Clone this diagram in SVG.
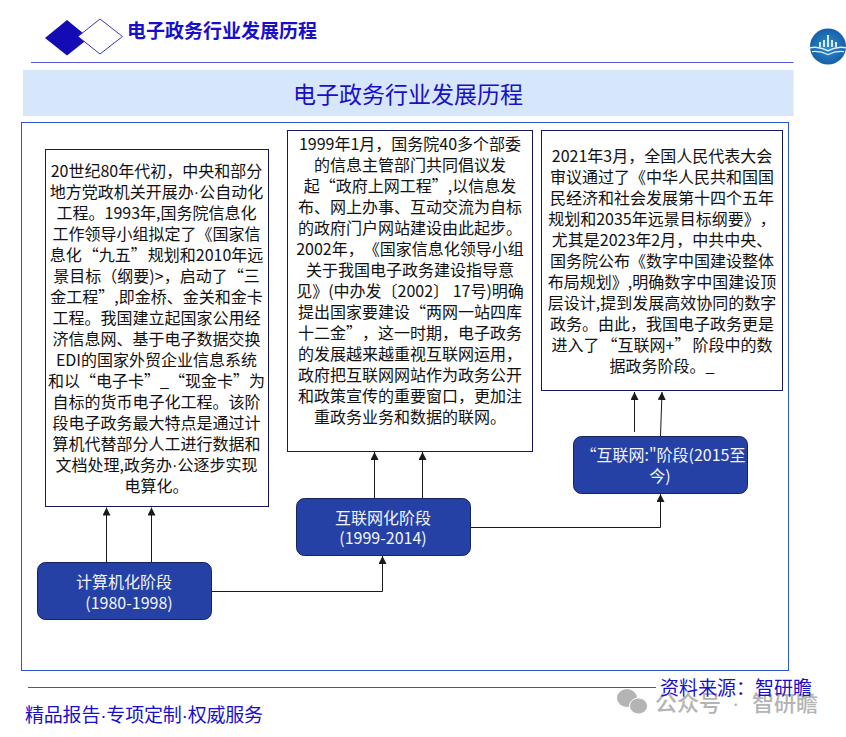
<svg xmlns="http://www.w3.org/2000/svg" width="846" height="737" viewBox="0 0 846 737" xml:lang="zh-CN" lang="zh-CN">
<style>
text{font-family:"Noto Sans CJK SC","Noto Sans",sans-serif;text-spacing-trim:space-all}
.d{font-family:"Liberation Sans",sans-serif}
.b{font-size:16px;fill:#111;text-anchor:middle}
.n{font-size:16px;fill:#f2f4fb;text-anchor:middle}
.box{fill:#fff;stroke:#14185c;stroke-width:1}
.node{fill:#2541a5;stroke:#16235e;stroke-width:1}
.c{fill:none;stroke:#1a1a1a;stroke-width:1}
.blue{fill:#1a0fc8}
</style>
<defs>
<marker id="a" markerUnits="userSpaceOnUse" markerWidth="8" markerHeight="8" refX="7" refY="3.500" orient="auto" viewBox="0 0 7 7"><path d="M7 3.500L0 0V7Z" fill="#1a1a1a"/></marker>
<radialGradient id="g"><stop offset="0" stop-color="#2f8fd0"/><stop offset="1" stop-color="#1660a8"/></radialGradient>
</defs>
<g id="header">
<path d="M67 20L89 38L67 55.500L45 38Z" fill="#140bb5"/>
<path d="M100 19L122.500 36.500L100 54L78 36.500Z" fill="#fff" stroke="#3b35c0" stroke-width="1"/>
<text x="127" y="38" font-size="19" font-weight="700" class="blue">电子政务行业发展历程</text>
<path d="M31 62.500H793.500" stroke="#5555d5" stroke-width="1"/>
</g>
<g id="logo">
<circle cx="828" cy="46.500" r="18" fill="url(#g)"/>
<path d="M819 42h2v5h-2zM823 40h2v7h-2zM827 35h2v12h-2zM831 40h2v7h-2zM835 42h2v5h-2z" fill="#d8ecf8"/>
<path d="M810 47q9-2 18 3q9-5 18-3v1.500q-9-2-18 3q-9-5-18-3zM812 51q8-1 16 3q8-4 16-3v1.200q-8-1-16 3q-8-4-16-3z" fill="#e4f2fa"/>
</g>
<g id="title">
<rect x="23" y="70" width="770.500" height="46" fill="#d6e6fb"/>
<text x="408" y="102.500" font-size="23" text-anchor="middle" class="blue">电子政务行业发展历程</text>
</g>
<rect id="frame" x="21.500" y="122.500" width="767" height="548" fill="none" stroke="#2d55cf" stroke-width="1"/>
<g id="connectors">
<path class="c" marker-end="url(#a)" d="M106.500 562V507.500"/>
<path class="c" marker-end="url(#a)" d="M151.500 562V507.500"/>
<path class="c" marker-end="url(#a)" d="M374.500 498V452"/>
<path class="c" marker-end="url(#a)" d="M422.500 498V452"/>
<path class="c" marker-end="url(#a)" d="M634.500 432V392"/>
<path class="c" marker-end="url(#a)" stroke="#555" d="M660.500 436L662 392"/>
<path class="c" marker-end="url(#a)" d="M212 591.500H382.500V556"/>
<path class="c" marker-end="url(#a)" d="M471 527.500H660.500V494"/>
</g>
<g id="text1">
<rect class="box" x="45.500" y="149.500" width="223" height="357"/>
<text class="b" x="156.500" y="177">20世纪80年代初，中央和部分</text>
<text class="b" x="156.500" y="198">地方党政机关开展办<tspan class="d">·</tspan>公自动化</text>
<text class="b" x="156.500" y="219">工程。1993年,国务院信息化</text>
<text class="b" x="156.500" y="240">工作领导小组拟定了《国家信</text>
<text class="b" x="156.500" y="261">息化<tspan dx="1">“</tspan>九五”<tspan dx="1">规</tspan>划和2010年远</text>
<text class="b" x="156.500" y="282">景目标（纲要)&gt;，启动了“三</text>
<text class="b" x="156.500" y="303">金工程”,即金桥、金关和金卡</text>
<text class="b" x="156.500" y="324">工程。我国建立起国家公用经</text>
<text class="b" x="156.500" y="345">济信息网、基于电子数据交换</text>
<text class="b" x="156.500" y="366">EDI的国家外贸企业信息系统</text>
<text class="b" x="156.500" y="387">和以“电子卡”_“现金卡”为</text>
<text class="b" x="156.500" y="408">自标的货币电子化工程。该阶</text>
<text class="b" x="156.500" y="429">段电子政务最大特点是通过计</text>
<text class="b" x="156.500" y="450">算机代替部分人工进行数据和</text>
<text class="b" x="156.500" y="471">文档处理,政务办<tspan class="d">·</tspan>公逐步实现</text>
<text class="b" x="156.500" y="492">电算化。</text>
</g>
<g id="text2">
<rect class="box" x="287.500" y="130.500" width="245" height="321"/>
<text class="b" x="410" y="150">1999年1月，国务院40多个部委</text>
<text class="b" x="410" y="171">的信息主管部门共同倡议发</text>
<text class="b" x="410" y="192">起“政府上网工程”,以信息发</text>
<text class="b" x="410" y="213">布、网上办事、互动交流为自标</text>
<text class="b" x="410" y="234">的政府门户网站建设由此起步。</text>
<text class="b" x="410" y="255">2002年，《国家信息化领导小组</text>
<text class="b" x="410" y="276">关于我国电子政务建设指导意</text>
<text class="b" x="410" y="297">见》(中办发〔2002〕 17号)明确</text>
<text class="b" x="410" y="318">提出国家要建设“两网一站四库</text>
<text class="b" x="410" y="339">十二金”，这一时期，电子政务</text>
<text class="b" x="410" y="360">的发展越来越重视互联网运用，</text>
<text class="b" x="410" y="381">政府把互联网网站作为政务公开</text>
<text class="b" x="410" y="402">和政策宣传的重要窗口，更加注</text>
<text class="b" x="410" y="423">重政务业务和数据的联网。</text>
</g>
<g id="text3">
<rect class="box" x="541.500" y="130.500" width="241" height="260"/>
<text class="b" x="662" y="162">2021年3月，全国人民代表大会</text>
<text class="b" x="662" y="183">审议通过了《中华人民共和国国</text>
<text class="b" x="662" y="204">民经济和社会发展第十四个五年</text>
<text class="b" x="662" y="225">规划和2035年远景目标纲要》，</text>
<text class="b" x="662" y="246">尤其是2023年2月，中共中央、</text>
<text class="b" x="662" y="267">国务院公布《数字中国建设整体</text>
<text class="b" x="662" y="288">布局规划》,明确数字中国建设顶</text>
<text class="b" x="662" y="309">层设计,提到发展高效协同的数字</text>
<text class="b" x="662" y="330">政务。由此，我国电子政务更是</text>
<text class="b" x="662" y="351">进入了<tspan dx="2">“</tspan>互联网+”<tspan dx="2">阶</tspan>段中的数</text>
<text class="b" x="662" y="372">据政务阶段。_</text>
</g>
<g id="node1">
<rect class="node" x="37.500" y="562.500" width="174" height="57" rx="8"/>
<text class="n" x="124" y="588">计算机化阶段</text>
<text class="n" x="129" y="609">(1980-1998)</text>
</g>
<g id="node2">
<rect class="node" x="296.500" y="498.500" width="174" height="57" rx="8"/>
<text class="n" x="383" y="524">互联网化阶段</text>
<text class="n" x="383" y="544">(1999-2014)</text>
</g>
<g id="node3">
<rect class="node" x="573.500" y="436.500" width="174" height="57" rx="8"/>
<text class="n" x="663" y="461">“互联网:"阶段(2015至</text>
<text class="n" x="660" y="482">今)</text>
</g>
<g id="footer">
<path d="M28 687.500H656" stroke="#4a4ad0" stroke-width="1"/>
<text x="25" y="722" font-size="19" letter-spacing="-0.200" class="blue">精品报告<tspan class="d">·</tspan>专项定制<tspan class="d">·</tspan>权威服务</text>
</g>
<g id="watermark" fill="#b4b4b4">
<ellipse cx="627" cy="698" rx="10" ry="9"/>
<ellipse cx="638.500" cy="706" rx="9" ry="8" stroke="#fff" stroke-width="1"/>
<text x="655" y="711" font-size="22" font-weight="500">公众号<tspan class="d" x="732">·</tspan><tspan x="752">智研瞻</tspan></text>
</g>
<text id="source" x="660" y="695" font-size="19" class="blue">资料来源：智研瞻</text>
</svg>
